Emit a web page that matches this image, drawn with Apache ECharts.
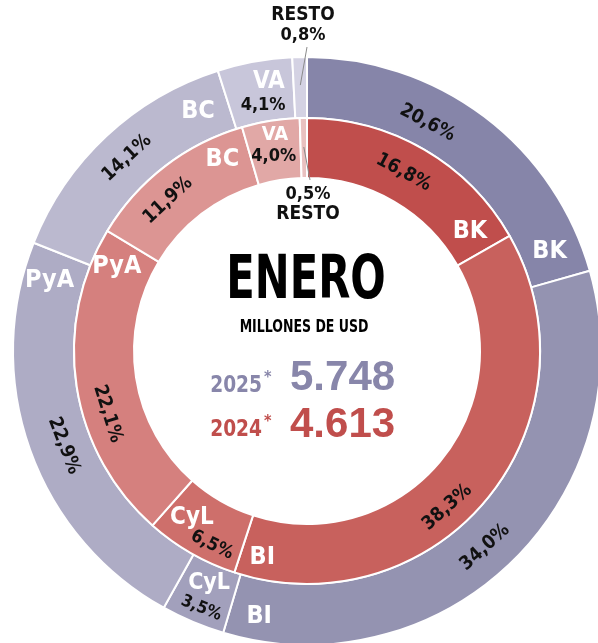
<!DOCTYPE html>
<html>
<head>
<meta charset="utf-8">
<title>Enero</title>
<script src="https://cdn.jsdelivr.net/npm/echarts@6/dist/echarts.min.js"></script>
<style>
html, body { margin: 0; padding: 0; background: #fff; }
#chart { width: 598px; height: 643px; }
</style>
</head>
<body>
<div id="chart"></div>
<script>
var categorias = ['BK', 'BI', 'CyL', 'PyA', 'BC', 'VA', 'RESTO'];
var valores2025 = [20.6, 34.0, 3.5, 22.9, 14.1, 4.1, 0.8];
var valores2024 = [16.8, 38.3, 6.5, 22.1, 11.9, 4.0, 0.5];
var anios = ['2025', '2024'];
var totales = ['5.748', '4.613'];
var titulo = 'ENERO';
var subtitulo = 'MILLONES DE USD';

var colores2025 = ['#8685a9', '#9493b1', '#a2a0bc', '#aeacc5', '#bbb9cf', '#c8c6da', '#d4d2e3'];
var colores2024 = ['#c04e4c', '#c8615d', '#ce6f6b', '#d5807e', '#dc9593', '#e1a8a6', '#e9c1c0'];

var CX = 307, CY = 351;
var NARROW = "'Liberation Sans Narrow', 'DejaVu Sans Condensed', 'Liberation Sans', sans-serif";
var WIDE = "'Liberation Sans', Arial, sans-serif";

// where labels sit: [fraction along the slice, radius, font size]
var posNombre2025 = [[0.914, 262, 25], [0.948, 270, 25], [0.5, 252, 23], [0.925, 267, 25], [0.865, 263, 25], [0.65, 272, 24], null];
var posPct2025 = [[0.375, 258, 19], [0.52, 265, 19], [0.46, 278, 17], [0.48, 261, 19], [0.5, 264, 19], [0.51, 250, 18], null];
var posNombre2024 = [[0.89, 202, 25], [0.957, 211, 25], [0.70, 203, 24], [0.91, 208, 25], [0.82, 209, 25], [0.54, 219, 20], null];
var posPct2024 = [[0.47, 203, 19], [0.564, 210, 19], [0.34, 216, 18], [0.39, 209, 19], [0.38, 205, 19], [0.45, 197, 18], null];
var girar = [true, true, true, true, true, false, false];

function tramos(vals) {
  var total = vals.reduce(function (a, b) { return a + b; }, 0);
  var acc = 0;
  return vals.map(function (v) {
    var s = acc / total * 360;
    acc += v;
    return [s, acc / total * 360];
  });
}
function punto(ang, r) {
  var a = ang * Math.PI / 180;
  return [CX + r * Math.sin(a), CY - r * Math.cos(a)];
}
function tangencial(ang) {
  if (ang <= 90) return -ang;
  if (ang < 270) return 180 - ang;
  return 360 - ang;
}
function pct(v) { return v.toFixed(1).replace('.', ',') + '%'; }

function colocar(vals, pos, rot, resto) {
  var t = tramos(vals);
  return function (p) {
    var i = p.dataIndex;
    if (!pos[i]) {
      return resto ? { x: resto[0], y: resto[1], align: 'center', verticalAlign: 'middle' } : {};
    }
    var ang = t[i][0] + (t[i][1] - t[i][0]) * pos[i][0];
    var xy = punto(ang, pos[i][1]);
    return {
      x: xy[0], y: xy[1], align: 'center', verticalAlign: 'middle',
      rotate: rot && rot[i] ? tangencial(ang) : 0,
      fontSize: pos[i][2]
    };
  };
}

function anillo(vals, colores, radio, pos, resto, formatoResto) {
  return {
    type: 'pie',
    radius: radio,
    center: [CX, CY],
    startAngle: 90,
    clockwise: true,
    avoidLabelOverlap: false,
    silent: true,
    itemStyle: { borderColor: '#fff', borderWidth: 2 },
    label: {
      show: true,
      position: 'inside',
      color: '#111',
      fontFamily: NARROW,
      fontWeight: 'bold',
      fontSize: 19,
      formatter: function (p) {
        return p.name === 'RESTO' ? formatoResto : pct(p.value);
      },
      rich: {
        n: { fontFamily: NARROW, fontWeight: 'bold', fontSize: 19, color: '#111', lineHeight: 20, align: 'center' },
        v: { fontFamily: NARROW, fontWeight: 'bold', fontSize: 18, color: '#111', lineHeight: 20, align: 'center' }
      }
    },
    labelLine: { show: false },
    labelLayout: colocar(vals, pos, girar, resto),
    data: categorias.map(function (c, i) {
      return { name: c, value: vals[i], itemStyle: { color: colores[i] } };
    })
  };
}

function nombres(vals, radio, pos) {
  return {
    type: 'pie',
    radius: radio,
    center: [CX, CY],
    startAngle: 90,
    clockwise: true,
    avoidLabelOverlap: false,
    silent: true,
    z: 5,
    itemStyle: { color: 'rgba(0,0,0,0)', borderWidth: 0 },
    label: {
      show: true,
      position: 'inside',
      color: '#fff',
      fontFamily: NARROW,
      fontWeight: 'bold',
      fontSize: 25,
      formatter: function (p) { return p.name === 'RESTO' ? '' : p.name; }
    },
    labelLine: { show: false },
    labelLayout: colocar(vals, pos, null, null),
    data: categorias.map(function (c, i) { return { name: c, value: vals[i] }; })
  };
}

var t25 = tramos(valores2025), t24 = tramos(valores2024);
var r25 = t25[6], r24 = t24[6];
var a25 = punto((r25[0] + r25[1]) / 2, 266);
var a24 = punto((r24[0] + r24[1]) / 2, 204);

function texto(x, y, txt, font, color, align, sx) {
  return {
    type: 'text', x: x, y: y, scaleX: sx || 1,
    style: { text: txt, font: font, fill: color, align: align, verticalAlign: 'middle', textAlign: align, textVerticalAlign: 'middle' }
  };
}

var chart = echarts.init(document.getElementById('chart'));
chart.setOption({
  animation: false,
  series: [
    anillo(valores2025, colores2025, [233, 294], posPct2025, [303, 25], '{n|RESTO}\n{v|' + pct(valores2025[6]) + '}'),
    anillo(valores2024, colores2024, [173, 233], posPct2024, [308, 204], '{v|' + pct(valores2024[6]) + '}\n{n|RESTO}'),
    nombres(valores2025, [233, 294], posNombre2025),
    nombres(valores2024, [173, 233], posNombre2024)
  ],
  graphic: [
    { type: 'line', shape: { x1: a25[0], y1: a25[1], x2: 307, y2: 47 }, style: { stroke: '#8a8a8a', lineWidth: 1 }, z: 10 },
    { type: 'line', shape: { x1: a24[0], y1: a24[1], x2: 310, y2: 180 }, style: { stroke: '#8a8a8a', lineWidth: 1 }, z: 10 },
    texto(306, 282, titulo, 'bold 61px ' + NARROW, '#000', 'center', 0.76),
    texto(304, 328, subtitulo, 'bold 17px ' + NARROW, '#000', 'center', 0.82),
    texto(262, 386, anios[0], 'bold 23px ' + NARROW, '#8886aa', 'right', 0.9),
    texto(264, 378, '*', 'bold 16px ' + NARROW, '#8886aa', 'left'),
    texto(290, 378, totales[0], 'bold 42px ' + WIDE, '#8886aa', 'left'),
    texto(262, 430, anios[1], 'bold 23px ' + NARROW, '#c04e4c', 'right', 0.9),
    texto(264, 422, '*', 'bold 16px ' + NARROW, '#c04e4c', 'left'),
    texto(290, 425, totales[1], 'bold 42px ' + WIDE, '#c04e4c', 'left')
  ]
});
</script>
</body>
</html>
